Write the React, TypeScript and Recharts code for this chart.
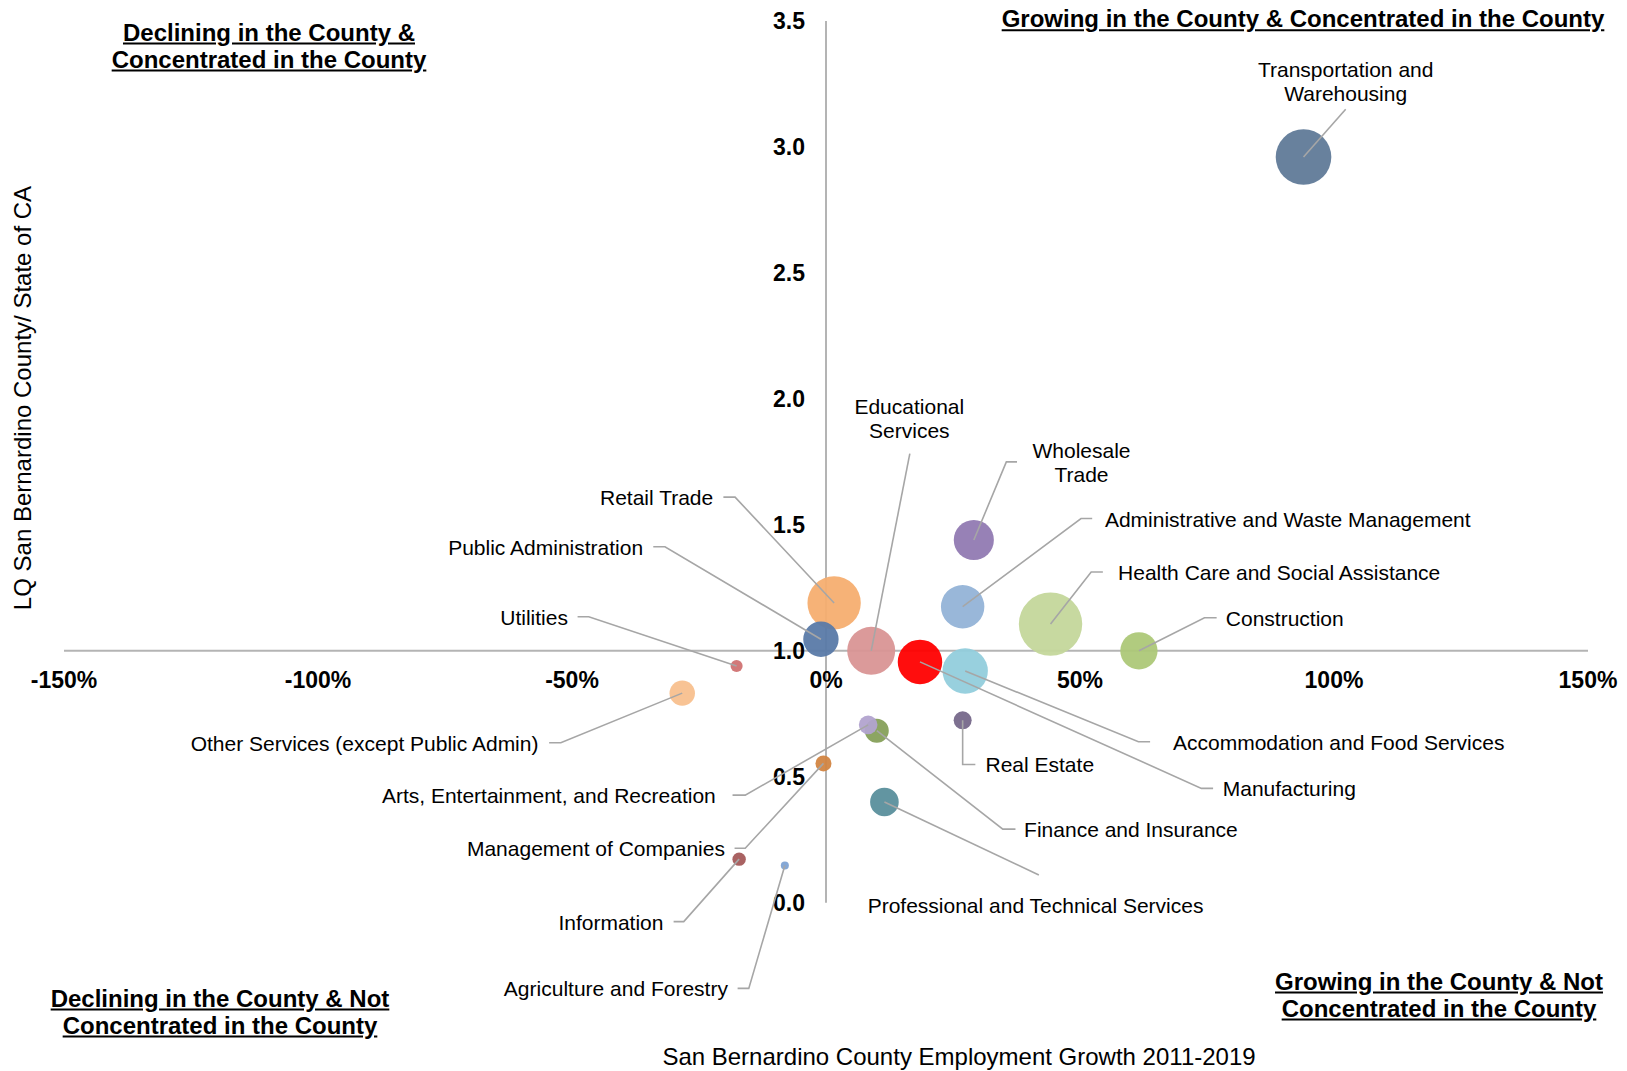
import React from 'react';
import {
  ScatterChart,
  Scatter,
  XAxis,
  YAxis,
  ZAxis,
  Cell,
  ReferenceLine,
  ReferenceDot,
} from 'recharts';

// industries, employment growth 2011-2019 (%), location quotient, jobs (thousands)
const industries = [
  'Transportation and Warehousing',
  'Wholesale Trade',
  'Administrative and Waste Management',
  'Health Care and Social Assistance',
  'Construction',
  'Retail Trade',
  'Public Administration',
  'Educational Services',
  'Manufacturing',
  'Accommodation and Food Services',
  'Real Estate',
  'Finance and Insurance',
  'Arts, Entertainment, and Recreation',
  'Professional and Technical Services',
  'Management of Companies',
  'Information',
  'Agriculture and Forestry',
  'Utilities',
  'Other Services (except Public Admin)',
];
const growth = [94, 29.1, 26.9, 44.2, 61.6, 1.6, -1.0, 8.9, 18.5, 27.4, 26.9, 10.0, 8.3, 11.5, -0.5, -17.1, -8.1, -17.6, -28.3];
const lq = [2.96, 1.44, 1.175, 1.106, 1.0, 1.19, 1.046, 1.0, 0.956, 0.92, 0.724, 0.683, 0.706, 0.4, 0.553, 0.173, 0.148, 0.94, 0.832];
const jobs = [100, 52, 61, 130, 45, 92, 40.5, 74.5, 64, 66.6, 10.5, 18.6, 11.2, 26.5, 8.3, 5.8, 2.1, 4.7, 20.9];

const colors = [
  '#607a98', '#917ab2', '#93b3d7', '#c4d79b', '#adc878', '#f6ae70', '#5a7aa8',
  '#d99595', '#ff0000', '#92cddc', '#76688a', '#86a05a', '#b2a3cf', '#5a8f9c',
  '#d28542', '#a45a5a', '#7ea3d4', '#d07272', '#f8c08e',
];

const xTicks = [-150, -100, -50, 0, 50, 100, 150];
const xTickLabels = ['-150%', '-100%', '-50%', '0%', '50%', '100%', '150%'];
const yTicks = [0, 0.5, 1, 1.5, 2, 2.5, 3, 3.5];
const yTickLabels = ['0.0', '0.5', '1.0', '1.5', '2.0', '2.5', '3.0', '3.5'];

// callout leader points and label anchors, in chart units
const callouts = [
  { i: 0, pts: [[102.3, 3.15]], at: [102.3, 3.261], anchor: 'middle', lines: ['Transportation and', 'Warehousing'] },
  { i: 7, pts: [[16.5, 1.783]], at: [16.4, 1.925], anchor: 'middle', lines: ['Educational', 'Services'] },
  { i: 1, pts: [[35.5, 1.75], [37.6, 1.75]], at: [50.3, 1.75], anchor: 'middle', lines: ['Wholesale', 'Trade'] },
  { i: 2, pts: [[50.2, 1.525], [52.4, 1.525]], at: [54.9, 1.525], anchor: 'start', lines: ['Administrative and Waste Management'] },
  { i: 3, pts: [[52.2, 1.313], [54.5, 1.313]], at: [57.5, 1.313], anchor: 'start', lines: ['Health Care and Social Assistance'] },
  { i: 4, pts: [[74.5, 1.131], [76.9, 1.131]], at: [78.7, 1.131], anchor: 'start', lines: ['Construction'] },
  { i: 5, pts: [[-17.9, 1.61], [-20.2, 1.61]], at: [-22.2, 1.61], anchor: 'end', lines: ['Retail Trade'] },
  { i: 6, pts: [[-31.7, 1.413], [-34.0, 1.413]], at: [-36.0, 1.413], anchor: 'end', lines: ['Public Administration'] },
  { i: 17, pts: [[-46.7, 1.135], [-48.9, 1.135]], at: [-50.8, 1.135], anchor: 'end', lines: ['Utilities'] },
  { i: 18, pts: [[-52.2, 0.635], [-54.5, 0.635]], at: [-56.6, 0.635], anchor: 'end', lines: ['Other Services (except Public Admin)'] },
  { i: 12, pts: [[-15.9, 0.427], [-18.4, 0.427]], at: [-21.7, 0.427], anchor: 'end', lines: ['Arts, Entertainment, and Recreation'] },
  { i: 14, pts: [[-15.9, 0.216], [-18.0, 0.216]], at: [-19.9, 0.216], anchor: 'end', lines: ['Management of Companies'] },
  { i: 15, pts: [[-28.0, -0.075], [-30.0, -0.075]], at: [-32.0, -0.075], anchor: 'end', lines: ['Information'] },
  { i: 16, pts: [[-15.2, -0.34], [-17.4, -0.34]], at: [-19.3, -0.34], anchor: 'end', lines: ['Agriculture and Forestry'] },
  { i: 10, pts: [[26.9, 0.549], [29.4, 0.549]], at: [31.4, 0.549], anchor: 'start', lines: ['Real Estate'] },
  { i: 11, pts: [[34.8, 0.292], [37.3, 0.292]], at: [39.0, 0.292], anchor: 'start', lines: ['Finance and Insurance'] },
  { i: 13, pts: [[41.9, 0.11]], at: [8.2, -0.008], anchor: 'start', lines: ['Professional and Technical Services'] },
  { i: 9, pts: [[61.5, 0.639], [63.8, 0.639]], at: [68.3, 0.639], anchor: 'start', lines: ['Accommodation and Food Services'] },
  { i: 8, pts: [[73.9, 0.454], [76.2, 0.454]], at: [78.1, 0.454], anchor: 'start', lines: ['Manufacturing'] },
];

const data = industries.map((name, i) => ({ name, x: growth[i], y: lq[i], z: jobs[i] }));

const FONT = '"Liberation Sans", Arial, sans-serif';
const LEADER = '#a6a6a6';

const textDot = (lines: string[], anchor: string, size: number, bold: boolean, dx = 0, dy = 0) =>
  (props: any) => (
    <text
      x={props.cx + dx}
      y={props.cy + dy}
      textAnchor={anchor}
      fontFamily={FONT}
      fontSize={size}
      fontWeight={bold ? 'bold' : 'normal'}
      fill="#000"
      dominantBaseline="central"
    >
      {lines.map((l, k) => (
        <tspan key={k} x={props.cx + dx} dy={k === 0 ? -((lines.length - 1) * 24) / 2 : 24}>
          {l}
        </tspan>
      ))}
    </text>
  );

const titleStyle: React.CSSProperties = {
  position: 'absolute',
  transform: 'translate(-50%, -50%)',
  fontFamily: FONT,
  fontSize: 24,
  fontWeight: 'bold',
  textDecoration: 'underline',
  textAlign: 'center',
  whiteSpace: 'nowrap',
  lineHeight: '27.5px',
  color: '#000',
};

const noDot = () => <g />;

export default function App() {
  // each leader is a polyline from the bubble centre through its callout points
  const leaders = callouts.map((c) => [
    { x: growth[c.i], y: lq[c.i], z: 0 },
    ...c.pts.map((p) => ({ x: p[0], y: p[1], z: 0 })),
  ]);

  return (
    <div style={{ position: 'absolute', left: 0, top: 0, width: 1627, height: 1071, background: '#fff' }}>
      <ScatterChart width={1627} height={1071} margin={{ top: 21, right: 39, bottom: 67.5, left: 64 }}>
        <XAxis type="number" dataKey="x" domain={[-150, 150]} hide />
        {/* room below 0 keeps the lower callouts inside the plot; the axis line stops at 0 */}
        <YAxis type="number" dataKey="y" domain={[-0.4, 3.5]} hide />
        <ZAxis type="number" dataKey="z" domain={[0, 130]} range={[0, 3157]} />
        <ReferenceLine y={1} stroke="#b4b4b4" strokeWidth={2} />
        <ReferenceLine segment={[{ x: 0, y: 0 }, { x: 0, y: 3.5 }]} stroke="#b4b4b4" strokeWidth={2} />
        {xTicks.map((t, k) => (
          <ReferenceDot key={'xt' + k} x={t} y={1} r={0} ifOverflow="visible"
            shape={textDot([xTickLabels[k]], 'middle', 23, true, 0, 29)} />
        ))}
        {yTicks.map((t, k) => (
          <ReferenceDot key={'yt' + k} x={0} y={t} r={0} ifOverflow="visible"
            shape={textDot([yTickLabels[k]], 'end', 23, true, -21, 0)} />
        ))}
        <Scatter data={data} isAnimationActive={false} fillOpacity={0.95}>
          {data.map((d, i) => (
            <Cell key={d.name} fill={colors[i]} />
          ))}
        </Scatter>
        {leaders.map((pts, k) => (
          <Scatter
            key={'ld' + k}
            data={pts}
            isAnimationActive={false}
            line={{ stroke: LEADER, strokeWidth: 1.6 }}
            lineType="joint"
            shape={noDot}
            legendType="none"
          />
        ))}
        {callouts.map((c, k) => (
          <ReferenceDot key={'lb' + k} x={c.at[0]} y={c.at[1]} r={0} ifOverflow="visible"
            shape={textDot(c.lines, c.anchor, 21, false)} />
        ))}
      </ScatterChart>

      <div style={{ ...titleStyle, left: 269, top: 45.5 }}>
        Declining in the County &amp;<br />Concentrated in the County
      </div>
      <div style={{ ...titleStyle, left: 1303, top: 19 }}>
        Growing in the County &amp; Concentrated in the County
      </div>
      <div style={{ ...titleStyle, left: 220, top: 1011.5 }}>
        Declining in the County &amp; Not<br />Concentrated in the County
      </div>
      <div style={{ ...titleStyle, left: 1439, top: 994.5 }}>
        Growing in the County &amp; Not<br />Concentrated in the County
      </div>
      <div
        style={{
          position: 'absolute', left: 959, top: 1057, transform: 'translate(-50%, -50%)',
          fontFamily: FONT, fontSize: 24, whiteSpace: 'nowrap', color: '#000',
        }}
      >
        San Bernardino County Employment Growth 2011-2019
      </div>
      <div
        style={{
          position: 'absolute', left: 23, top: 398, transform: 'translate(-50%, -50%) rotate(-90deg)',
          fontFamily: FONT, fontSize: 24, whiteSpace: 'nowrap', color: '#000',
        }}
      >
        LQ San Bernardino County/ State of CA
      </div>
    </div>
  );
}
